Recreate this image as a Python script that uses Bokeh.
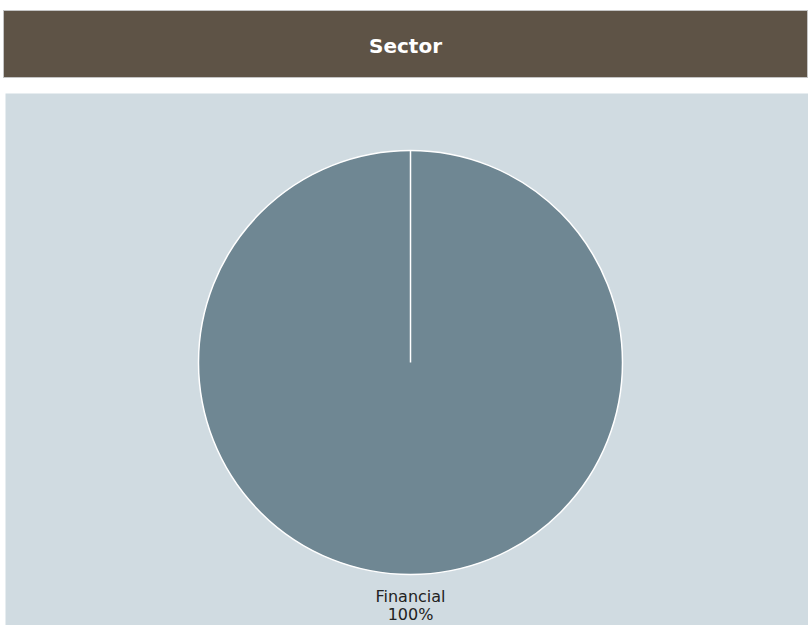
import math
from bokeh.plotting import figure
from bokeh.models import Div, Range1d, ColumnDataSource
from bokeh.layouts import column
from bokeh.core.properties import value
from bokeh.embed import file_html
from bokeh.resources import INLINE

# data
title_text = "Sector"
categories = ["Financial"]
shares = [100.0]
colors = ["#6f8793"]

total = sum(shares)
starts, ends = [], []
acc = 0.0
for s in shares:
    a0 = math.pi / 2 - 2 * math.pi * acc / total
    acc += s
    a1 = math.pi / 2 - 2 * math.pi * acc / total
    starts.append(a0)
    ends.append(a1)

W, H = 803, 532
cx, cy, r = 405, 263, 212

header = Div(
    text=f'<div style="box-sizing:border-box;width:805px;height:68px;padding-top:5px;background:#5e5346;'
         f'border:1px solid #c4c4c4;color:#ffffff;font-family:\'DejaVu Sans\',Verdana,sans-serif;'
         f'font-weight:bold;font-size:20px;display:flex;align-items:center;justify-content:center;">'
         f'{title_text}</div>',
    width=805, height=68, margin=(10, 0, 0, 3),
)

p = figure(width=W, height=H, output_backend="svg", toolbar_location=None,
           x_range=Range1d(0, W), y_range=Range1d(0, H),
           min_border=0, min_border_left=0, min_border_right=0,
           min_border_top=0, min_border_bottom=0, margin=(15, 0, 0, 5))
p.axis.visible = False
p.grid.visible = False
p.outline_line_color = None
p.background_fill_color = "#d0dbe1"
p.border_fill_color = "#ffffff"

src = ColumnDataSource(dict(cat=categories, share=shares, start=starts, end=ends,
                            color=colors, x=[cx] * len(shares), y=[cy] * len(shares)))
if len(shares) == 1:
    p.circle(x="x", y="y", radius=r, source=src, fill_color="color",
             line_color="#ffffff", line_width=1.5)
    p.segment(x0=[cx], y0=[cy], x1=[cx], y1=[cy + r], line_color="#ffffff", line_width=1.5)
else:
    p.wedge(x="x", y="y", radius=r, start_angle="start", end_angle="end",
            direction="clock", source=src, fill_color="color",
            line_color="#ffffff", line_width=1.5)

lab = ColumnDataSource(dict(x=[cx], y1=[29.0], y2=[11.0], name=categories,
                            pct=[f"{s / total * 100:.0f}%" for s in shares]))
p.text(x="x", y="y1", text="name", source=lab, text_align="center",
       text_baseline="alphabetic", text_font=value("DejaVu Sans"),
       text_font_size="16px", text_color="#222222")
p.text(x="x", y="y2", text="pct", source=lab, text_align="center",
       text_baseline="alphabetic", text_font=value("DejaVu Sans"),
       text_font_size="16px", text_color="#222222")

layout = column(header, p, spacing=0)
open("out.html", "w").write(file_html(layout, INLINE))
